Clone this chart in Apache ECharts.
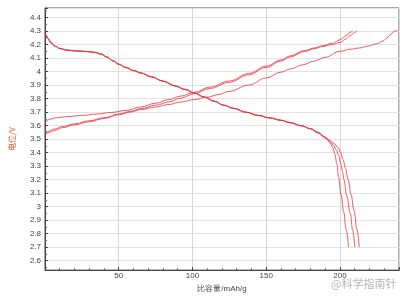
<!DOCTYPE html>
<html><head><meta charset="utf-8">
<script src="https://cdn.jsdelivr.net/npm/echarts@6/dist/echarts.min.js"></script>
<style>html,body{margin:0;padding:0;background:#fff}#c{width:407px;height:298px}</style>
</head><body><div id="c"></div>
<script>
// Discharge curves (capacity mAh/g, potential V)
const discharge1 = [[0,4.29],[1,4.265],[2,4.245],[4,4.215],[7,4.188],[10,4.172],[15,4.16],[20,4.155],[25,4.151],[30,4.147],[34,4.142],[38,4.13],[42,4.108],[46,4.08],[50,4.055],[55,4.03],[60,4.008],[65,3.99],[72,3.962],[80,3.93],[88,3.895],[95,3.868],[101,3.843],[108,3.812],[115,3.78],[121,3.752],[128,3.728],[136,3.7],[145,3.675],[152,3.658],[160,3.64],[166,3.623],[174,3.598],[180,3.575],[185,3.545],[188,3.522],[191,3.5],[193,3.475],[195,3.44],[196.5,3.39],[197.8,3.32],[199,3.22],[200.7,3.09],[202.5,2.96],[204.2,2.83],[205.8,2.7]];
const discharge2 = [[0,4.285],[1,4.262],[2,4.243],[4,4.213],[7,4.186],[10,4.17],[15,4.158],[20,4.153],[25,4.15],[30,4.146],[34,4.141],[38,4.129],[42,4.107],[46,4.079],[50,4.054],[55,4.029],[60,4.007],[65,3.989],[72,3.961],[80,3.929],[88,3.894],[95,3.867],[101,3.842],[108,3.811],[115,3.779],[121,3.751],[128,3.727],[136,3.699],[145,3.674],[152,3.657],[160,3.639],[166,3.622],[174,3.597],[180,3.576],[185,3.548],[190,3.51],[193,3.482],[195.5,3.455],[197.5,3.42],[199,3.38],[200.5,3.32],[201.7,3.26],[202.7,3.2],[204.5,3.08],[207,2.95],[208.5,2.83],[210,2.7]];
const discharge3 = [[0,4.28],[1,4.26],[2,4.241],[4,4.212],[7,4.185],[10,4.169],[15,4.157],[20,4.152],[25,4.149],[30,4.145],[34,4.14],[38,4.128],[42,4.106],[46,4.078],[50,4.053],[55,4.028],[60,4.006],[65,3.988],[72,3.96],[80,3.928],[88,3.893],[95,3.866],[101,3.841],[108,3.81],[115,3.778],[121,3.75],[128,3.726],[136,3.698],[145,3.673],[152,3.656],[160,3.638],[166,3.621],[174,3.598],[180,3.578],[185,3.552],[190,3.515],[193,3.492],[196,3.468],[198.5,3.44],[200.5,3.4],[202,3.35],[203.8,3.28],[205.5,3.2],[207.5,3.09],[209.5,2.97],[211.5,2.83],[213,2.7]];
// Charge curves
const charge1 = [[0,3.615],[1,3.632],[3,3.646],[8,3.658],[15,3.666],[25,3.675],[35,3.685],[45,3.697],[55,3.712],[65,3.738],[75,3.765],[84,3.792],[92,3.818],[101,3.845],[112,3.885],[125,3.93],[138,3.985],[150,4.04],[160,4.085],[166,4.115],[176,4.155],[183,4.175],[188,4.19],[195,4.21],[200,4.235],[204,4.265],[207,4.29],[208.5,4.3]];
const charge2 = [[0,3.545],[2,3.556],[6,3.573],[12,3.593],[20,3.613],[30,3.635],[40,3.658],[50,3.685],[58,3.705],[65,3.725],[75,3.75],[84,3.775],[92,3.803],[101,3.835],[112,3.875],[125,3.92],[138,3.975],[150,4.03],[160,4.077],[166,4.107],[176,4.148],[183,4.17],[188,4.185],[195,4.2],[200,4.215],[204,4.24],[207,4.265],[210,4.29],[211.5,4.3]];
const charge3 = [[0,3.53],[2,3.545],[6,3.562],[12,3.585],[20,3.605],[30,3.628],[40,3.652],[50,3.68],[58,3.7],[65,3.718],[75,3.737],[84,3.756],[92,3.774],[101,3.792],[110,3.81],[118,3.83],[125,3.853],[138,3.9],[150,3.952],[160,3.995],[166,4.018],[175,4.05],[182,4.076],[190,4.105],[200,4.15],[207,4.165],[213,4.174],[219,4.188],[225,4.205],[229,4.225],[232,4.25],[234.5,4.275],[236.5,4.295],[237.5,4.3],[239,4.3]];

const xName = '比容量/mAh/g';
const yName = '电位/V';
const watermark = '@科学指南针';

const curves = [discharge1, discharge2, discharge3, charge1, charge2, charge3];
const lineColor = '#e4343f';

const chart = echarts.init(document.getElementById('c'), null, {renderer: 'canvas'});
chart.setOption({
  animation: false,
  grid: {left: 36, right: 8, top: 8, bottom: 26, show: true, borderColor: '#555', borderWidth: 1},
  xAxis: {
    type: 'value', min: 0, max: 240, interval: 50,
    name: xName, nameLocation: 'middle', nameGap: 12,
    nameTextStyle: {fontSize: 8, color: '#444', fontFamily: 'Liberation Sans'},
    axisLine: {lineStyle: {color: '#444'}},
    axisTick: {inside: true, length: 3, lineStyle: {color: '#444'}},
    minorTick: {show: true, splitNumber: 5, length: 2, lineStyle: {color: '#666'}},
    axisLabel: {fontSize: 8, color: '#444', margin: 2, fontFamily: 'Liberation Sans', showMinLabel: false, showMaxLabel: false},
    splitLine: {show: true, lineStyle: {color: '#d8d8d8', width: 1}}
  },
  yAxis: {
    type: 'value', min: 2.53, max: 4.47, splitNumber: 19,
    name: yName, nameLocation: 'middle', nameGap: 29, nameRotate: 90,
    nameTextStyle: {fontSize: 8, color: '#e8562e', fontFamily: 'Noto Sans CJK SC'},
    axisLine: {lineStyle: {color: '#444'}},
    axisTick: {inside: true, length: 3, lineStyle: {color: '#444'}},
    minorTick: {show: true, splitNumber: 2, length: 2, lineStyle: {color: '#666'}},
    axisLabel: {fontSize: 8, color: '#444', margin: 4, fontFamily: 'Liberation Sans', showMinLabel: false, showMaxLabel: false,
      formatter: v => String(Math.round(v * 10) / 10)},
    splitLine: {show: true, lineStyle: {color: '#e2e2e2', width: 1}}
  },
  graphic: [{
    type: 'text', left: 331, top: 278,
    style: {text: watermark, fontSize: 11, fill: '#b5b5b5', fontFamily: 'Noto Sans CJK SC'}
  }],
  series: curves.map(d => ({
    type: 'line', data: d, showSymbol: false, smooth: 0.4, smoothMonotone: 'x',
    lineStyle: {color: lineColor, width: 0.8}, clip: true
  }))
});
</script></body></html>
